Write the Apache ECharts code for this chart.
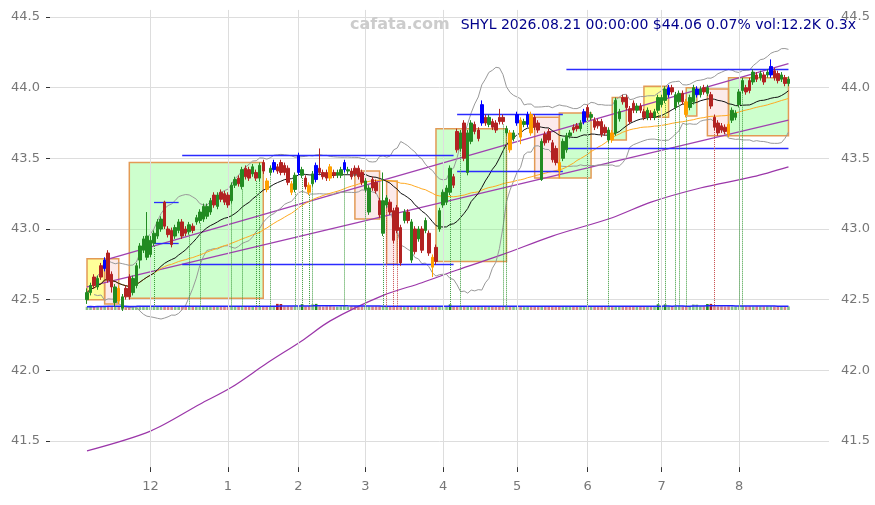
<!DOCTYPE html>
<html>
<head>
<meta charset="utf-8">
<script src="https://cdn.jsdelivr.net/npm/echarts@6/dist/echarts.min.js"></script>
<style>
  html, body { margin: 0; background: #fff; }
  #chart { width: 875px; height: 505px; }
</style>
</head>
<body>
<div id="chart"></div>
<script>
// trading calendar
const firstDay = '2025-11-04';
const lastDay = '2026-08-21';
const holidays = ['2025-11-27', '2025-12-25', '2026-01-01', '2026-01-19', '2026-02-16',
    '2026-04-03', '2026-05-25', '2026-06-19', '2026-07-03'];

// [open, close, low, high]
const ohlc = [
    [42.50,42.55,42.47,42.58],[42.55,42.60,42.53,42.62],[42.66,42.60,42.58,42.68],[42.59,42.65,42.57,42.67],
    [42.74,42.66,42.64,42.76],[42.72,42.78,42.70,42.80],[42.83,42.64,42.62,42.85],[42.68,42.59,42.55,42.70],
    [42.48,42.59,42.45,42.61],[42.58,42.49,42.47,42.60],[42.44,42.52,42.42,42.54],[42.58,42.52,42.50,42.60],
    [42.66,42.52,42.50,42.68],[42.55,42.65,42.53,42.67],[42.60,42.74,42.58,42.76],[42.78,42.88,42.72,42.90],
    [42.85,42.93,42.83,42.95],[42.80,42.95,42.78,43.12],[42.82,42.92,42.80,42.95],[42.90,42.97,42.88,42.99],
    [42.95,43.05,42.93,43.07],[43.00,43.07,42.98,43.09],[43.19,43.02,43.00,43.20],[43.00,42.96,42.94,43.02],
    [42.99,42.89,42.87,43.01],[42.95,43.01,42.93,43.03],[42.99,43.05,42.97,43.07],[43.05,42.95,42.93,43.07],
    [43.00,42.97,42.95,43.02],[42.98,43.03,42.96,43.05],[43.02,42.99,42.97,43.04],[43.05,43.08,43.03,43.10],
    [43.06,43.12,43.04,43.14],[43.07,43.16,43.05,43.18],[43.09,43.16,43.07,43.18],[43.12,43.20,43.10,43.22],
    [43.24,43.17,43.15,43.26],[43.16,43.24,43.14,43.26],[43.26,43.21,43.19,43.28],[43.25,43.19,43.17,43.27],
    [43.24,43.17,43.15,43.26],[43.20,43.31,43.18,43.33],[43.31,43.35,43.29,43.37],[43.36,43.32,43.30,43.38],
    [43.30,43.42,43.28,43.44],[43.43,43.37,43.35,43.45],[43.42,43.36,43.34,43.44],[43.39,43.44,43.37,43.46],
    [43.40,43.36,43.34,43.42],[43.36,43.45,43.34,43.47],[43.47,43.41,43.39,43.49],[43.34,43.28,43.26,43.36],
    [43.40,43.43,43.38,43.45],[43.42,43.47,43.40,43.49],[43.44,43.41,43.39,43.46],[43.47,43.40,43.38,43.49],
    [43.45,43.40,43.38,43.47],[43.43,43.33,43.31,43.45],[43.32,43.26,43.24,43.34],[43.28,43.38,43.26,43.40],
    [43.40,43.52,43.38,43.54],[43.38,43.42,43.36,43.44],[43.36,43.30,43.28,43.38],[43.31,43.26,43.24,43.33],
    [43.32,43.39,43.30,43.41],[43.35,43.45,43.33,43.47],[43.43,43.40,43.38,43.57],[43.40,43.37,43.35,43.42],
    [43.40,43.36,43.34,43.42],[43.44,43.36,43.34,43.46],[43.40,43.38,43.36,43.42],[43.38,43.40,43.36,43.42],
    [43.38,43.42,43.36,43.44],[43.42,43.47,43.40,43.49],[43.41,43.42,43.39,43.44],[43.41,43.37,43.35,43.43],
    [43.43,43.39,43.37,43.45],[43.43,43.37,43.35,43.45],[43.40,43.33,43.31,43.42],[43.28,43.34,43.26,43.36],
    [43.12,43.29,43.10,43.31],[43.35,43.29,43.27,43.37],[43.33,43.27,43.25,43.35],[43.20,43.10,43.08,43.22],
    [42.97,43.20,42.95,43.40],[43.17,43.22,43.15,43.24],[43.19,43.12,43.10,43.21],[43.13,42.92,42.90,43.15],
    [43.15,42.99,42.97,43.17],[43.01,42.76,42.74,43.03],[43.06,43.12,43.04,43.14],[43.12,43.06,43.04,43.14],
    [42.78,43.05,42.76,43.07],[43.00,42.84,42.82,43.02],[42.93,43.00,42.91,43.02],[43.00,42.85,42.83,43.02],
    [42.99,43.06,42.97,43.08],[42.97,42.83,42.81,42.99],[42.80,42.73,42.66,42.82],[42.87,42.77,42.75,42.89],
    [43.00,43.13,42.98,43.15],[43.17,43.26,43.15,43.28],[43.19,43.29,43.17,43.31],[43.26,43.43,43.24,43.45],
    [43.37,43.31,43.29,43.39],[43.69,43.56,43.54,43.71],[43.57,43.68,43.55,43.70],[43.75,43.50,43.48,43.77],
    [43.40,43.68,43.38,43.70],[43.62,43.75,43.60,43.77],[43.74,43.69,43.67,43.76],[43.70,43.64,43.62,43.72],
    [43.75,43.88,43.73,43.91],[43.79,43.75,43.73,43.81],[43.74,43.79,43.72,43.81],[43.76,43.72,43.70,43.78],
    [43.75,43.70,43.68,43.77],[43.79,43.76,43.74,43.85],[43.79,43.76,43.74,43.81],[43.68,43.71,43.66,43.73],
    [43.68,43.56,43.54,43.70],[43.64,43.68,43.62,43.70],[43.75,43.81,43.73,43.83],[43.77,43.65,43.60,43.79],
    [43.74,43.76,43.72,43.78],[43.74,43.81,43.72,43.83],[43.81,43.68,43.66,43.83],[43.79,43.72,43.70,43.81],
    [43.75,43.70,43.68,43.77],[43.35,43.62,43.34,43.64],[43.67,43.61,43.59,43.69],[43.69,43.63,43.61,43.71],
    [43.61,43.49,43.47,43.63],[43.57,43.47,43.45,43.59],[43.47,43.41,43.36,43.49],[43.50,43.62,43.48,43.64],
    [43.56,43.66,43.54,43.68],[43.66,43.68,43.64,43.70],[43.72,43.70,43.68,43.74],[43.73,43.71,43.69,43.75],
    [43.71,43.75,43.69,43.77],[43.76,43.83,43.74,43.85],[43.86,43.79,43.77,43.88],[43.79,43.81,43.77,43.83],
    [43.77,43.72,43.70,43.79],[43.76,43.73,43.71,43.78],[43.76,43.67,43.65,43.78],[43.72,43.68,43.66,43.74],
    [43.63,43.70,43.61,43.72],[43.68,43.63,43.61,43.70],[43.68,43.91,43.66,43.93],[43.78,43.83,43.76,43.85],
    [43.93,43.90,43.88,43.95],[43.93,43.86,43.84,43.95],[43.85,43.76,43.74,43.87],[43.89,43.84,43.82,43.91],
    [43.84,43.87,43.82,43.89],[43.87,43.84,43.82,43.89],[43.83,43.79,43.77,43.85],[43.79,43.84,43.77,43.86],
    [43.82,43.79,43.77,43.84],[43.79,43.83,43.77,43.85],[43.84,43.93,43.82,43.95],[43.88,43.93,43.86,43.95],
    [43.91,43.99,43.89,44.01],[43.95,44.00,43.93,44.02],[44.00,43.97,43.95,44.02],[43.86,43.95,43.84,43.97],
    [43.90,43.96,43.88,43.98],[43.96,43.90,43.88,43.98],[43.90,43.81,43.79,43.92],[43.86,43.93,43.84,43.95],
    [43.90,44.00,43.88,44.02],[43.95,43.99,43.93,44.01],[43.95,43.99,43.93,44.01],[44.00,43.97,43.95,44.02],
    [43.96,44.00,43.94,44.02],[43.95,43.87,43.85,43.97],[43.79,43.72,43.70,43.81],[43.75,43.68,43.66,43.77],
    [43.73,43.70,43.68,43.75],[43.72,43.69,43.67,43.74],[43.74,43.67,43.65,43.76],[43.77,43.84,43.75,43.86],
    [43.79,43.82,43.77,43.84],[43.88,43.97,43.86,43.99],[43.98,44.05,43.96,44.07],[44.00,43.97,43.95,44.02],
    [44.05,43.98,43.96,44.07],[44.04,44.11,44.02,44.13],[44.09,44.06,44.04,44.11],[44.07,44.10,44.05,44.12],
    [44.09,44.04,44.02,44.11],[44.09,44.11,44.07,44.13],[44.09,44.15,44.07,44.20],[44.12,44.07,44.05,44.14],
    [44.10,44.05,44.03,44.12],[44.06,44.09,44.04,44.11],[44.07,44.03,44.01,44.09],[44.03,44.06,44.01,44.08]
];

// volume, thousands
const volK = [
    11.2,12.5,10.8,13.1,12.0,14.6,13.3,11.9,12.7,13.8,11.4,12.2,10.9,13.5,12.8,14.1,11.7,12.9,13.4,12.1,
    11.8,12.6,13.9,12.3,11.5,12.8,13.2,12.0,11.6,12.9,13.7,12.4,11.9,12.5,13.0,12.2,11.8,12.7,13.3,12.6,
    11.4,12.9,13.6,12.1,12.8,11.7,12.4,13.2,12.0,12.6,13.5,12.3,11.9,13.8,21.0,20.5,12.7,13.1,12.4,12.9,
    13.6,20.0,12.2,13.0,19.5,21.0,12.5,11.8,12.9,13.4,12.1,11.6,12.8,13.5,12.0,12.7,13.2,11.9,12.4,13.0,
    12.6,12.2,13.1,12.8,14.0,12.5,13.3,12.9,13.6,14.2,12.4,12.1,13.0,12.7,12.3,13.4,12.8,12.2,13.1,12.6,
    13.2,12.8,12.5,19.0,12.9,13.5,12.6,13.0,12.4,12.8,11.9,12.3,13.6,12.7,12.1,12.9,12.4,13.1,12.6,12.2,
    13.0,12.5,13.4,12.8,12.3,13.2,12.7,12.1,12.9,13.5,12.4,12.0,12.8,13.1,12.6,12.3,12.9,12.5,12.2,12.7,
    13.0,12.6,12.4,12.9,12.2,12.8,13.1,12.5,12.3,12.7,13.3,12.6,12.1,12.8,12.4,13.0,12.2,12.7,12.5,12.9,
    12.3,12.8,19.5,12.6,19.0,12.9,12.4,12.7,13.0,12.5,12.2,12.8,19.0,18.5,12.6,12.3,20.5,21.0,12.9,12.4,
    12.8,12.2,13.1,12.6,12.4,12.9,13.2,12.5,12.7,12.3,12.8,12.6,12.4,13.0,12.7,12.2,12.5,12.8,12.4,12.2
];

const blueBars = [5, 53, 60, 65, 73, 112, 122, 125, 141, 165, 173, 194];
const orangeBars = [9, 51, 58, 63, 69, 98, 120, 123, 126, 134, 149, 170, 182];
const greenSignals = [19, 29, 32, 41, 44, 48, 49, 52, 59, 61, 63, 64, 73, 79, 84, 103, 106, 118, 119,
    142, 148, 162, 164, 167, 168, 170, 185, 186];
const redSignals = [85, 87, 88, 178];

// [from bar, to bar, low, high, kind]
const zones = [
    [0, 5, 42.50, 42.79, 'yellow'], [5, 9, 42.47, 42.79, 'pink'], [12, 50, 42.51, 43.47, 'green'],
    [76, 83, 43.07, 43.41, 'pink'], [85, 88, 42.75, 43.34, 'pink'], [99, 119, 42.77, 43.71, 'green'],
    [127, 134, 43.36, 43.79, 'pink'], [134, 143, 43.36, 43.82, 'green'], [149, 153, 43.63, 43.93, 'green'],
    [158, 165, 43.79, 44.01, 'yellow'], [170, 173, 43.80, 44.00, 'green'], [176, 182, 43.66, 43.99, 'pink'],
    [182, 199, 43.66, 44.07, 'green']
];

// [from bar, to bar, price]
const levels = [
    [19, 26, 43.19], [19, 26, 42.90], [27, 104, 42.75], [27, 104, 43.52],
    [105, 135, 43.81], [105, 135, 43.41], [136, 199, 43.57], [136, 199, 44.13]
];

// channel lines [bar, price, bar, price]
const channel = [[5, 42.78, 199, 44.17], [0, 42.59, 199, 43.77]];

// long average [bar, price]
const longAvg = [[0, 41.43], [18, 41.57], [32, 41.76], [41, 41.88], [51, 42.05], [61, 42.21], [69, 42.35],
    [84, 42.53], [95, 42.62], [105, 42.71], [118, 42.82], [132, 42.95], [149, 43.08], [160, 43.19],
    [174, 43.29], [189, 43.37], [199, 43.44]];

// y axis: labelled 41.5 .. 44.5, plot area reaches a little past both ends
const yMin = 41.0, yMax = 45.0, yStep = 0.5;
const plotTop = 44.55, plotBottom = 41.315;
const titleText = 'SHYL 2026.08.21 00:00:00 $44.06 0.07% vol:12.2K 0.3x';

const PADL = 10, PADR = 11;

function tradingDays(from, to, skip) {
    const out = [];
    const d = new Date(from + 'T00:00:00Z');
    const end = new Date(to + 'T00:00:00Z');
    while (d <= end) {
        const wd = d.getUTCDay();
        const s = d.toISOString().slice(0, 10);
        if (wd !== 0 && wd !== 6 && skip.indexOf(s) < 0) out.push(s);
        d.setUTCDate(d.getUTCDate() + 1);
    }
    return out;
}

const dates = tradingDays(firstDay, lastDay, holidays);
const cats = [];
for (let i = 0; i < PADL; i++) cats.push('L' + i);
dates.forEach(d => cats.push(d));
for (let i = 0; i < PADR; i++) cats.push('R' + i);

const monthStart = {};
const monthBars = [];
for (let i = 1; i < dates.length; i++) {
    if (dates[i].slice(5, 7) !== dates[i - 1].slice(5, 7)) {
        monthStart[i + PADL] = true;
        monthBars.push(i);
    }
}
const isMonth = (idx) => !!monthStart[idx];
const cat = (i) => cats[i + PADL];

function pad(arr) {
    return Array(PADL).fill('-').concat(arr);
}

const closes = ohlc.map(d => d[1]);
function windowStats(vals, n) {
    return vals.map((_, i) => {
        const s = vals.slice(Math.max(0, i - n + 1), i + 1);
        const m = s.reduce((a, b) => a + b, 0) / s.length;
        const v = s.reduce((a, b) => a + (b - m) * (b - m), 0) / s.length;
        return [m, Math.sqrt(v)];
    });
}
const st20 = windowStats(closes, 20);
const st50 = windowStats(closes, 50);
const ma20 = st20.map(s => +s[0].toFixed(3));
const bbUp = st20.map((s, i) => i < 2 ? '-' : +(s[0] + 2 * s[1]).toFixed(3));
const bbLo = st20.map((s, i) => i < 2 ? '-' : +(s[0] - 2 * s[1]).toFixed(3));
const ma50 = st50.map(s => +s[0].toFixed(3));
const volMa = windowStats(volK, 20).map(s => +s[0].toFixed(2));

const UP = '#228b22', DOWN = '#b22222', BLUE = '#0000ff', ORANGE = '#ffa000';

const candleData = ohlc.map((d, i) => {
    let c = null;
    if (blueBars.indexOf(i) >= 0) c = BLUE;
    if (orangeBars.indexOf(i) >= 0) c = ORANGE;
    if (!c) return d;
    return { value: d, itemStyle: { color: c, color0: c, borderColor: c, borderColor0: c } };
});

const volData = volK.map((v, i) => {
    const up = ohlc[i][1] >= ohlc[i][0];
    const strong = v > volMa[i] * 1.4;
    const col = up ? (strong ? UP : 'rgba(34,139,34,0.55)') : (strong ? DOWN : 'rgba(178,34,34,0.55)');
    return { value: v, itemStyle: { color: col } };
});

const zoneFill = {
    green: 'rgba(130,255,130,0.4)',
    yellow: 'rgba(255,255,0,0.4)',
    pink: 'rgba(245,170,170,0.25)'
};

const signalLines = [];
greenSignals.forEach(i => signalLines.push([
    { coord: [cat(i), ohlc[i][2]], lineStyle: { color: '#3a9a3a', type: 'dotted', width: 1 } },
    { coord: [cat(i), 42.45] }
]));
redSignals.forEach(i => signalLines.push([
    { coord: [cat(i), ohlc[i][2]], lineStyle: { color: '#c84a4a', type: 'dotted', width: 1 } },
    { coord: [cat(i), 42.45] }
]));

const levelLines = levels.map(l => [
    { coord: [cat(l[0]), l[2]] },
    { coord: [cat(l[1]), l[2]] }
]);

// vertical grid lines at the first bar of each month
const monthLines = monthBars.map(i => [
    { coord: [cat(i), plotTop] },
    { coord: [cat(i), plotBottom] }
]);

// grid 0 spans yMin..yMax so that 41.5 sits at y=441 and 44.5 at y=17
const pxPerUnit = (441 - 17) / 3;
const gridTop = 17 - (yMax - 44.5) * pxPerUnit;
const gridBottom = 505 - (441 + (41.5 - yMin) * pxPerUnit);

const myChart = echarts.init(document.getElementById('chart'));

const option = {
    animation: false,
    backgroundColor: '#fff',
    textStyle: { fontFamily: 'DejaVu Sans' },
    graphic: [
        { type: 'text', left: 350, top: 17, z: 10,
          style: { text: 'cafata.com', fill: '#cccccc', font: 'bold 16px "DejaVu Sans"' } },
        { type: 'text', right: 19, top: 18, z: 10,
          style: { text: titleText, fill: '#00008b', font: '14px "DejaVu Sans"' } }
    ],
    grid: [
        { left: 50, right: 46, top: gridTop, bottom: gridBottom, containLabel: false, outerBoundsMode: 'none' },
        { left: 50, right: 46, top: 9, bottom: 38, outerBoundsMode: 'none' },
        { left: 50, right: 46, top: 296, height: 14, outerBoundsMode: 'none' }
    ],
    xAxis: [
        { type: 'category', gridIndex: 0, data: cats, show: false },
        {
            type: 'category', gridIndex: 1, data: cats, offset: 4,
            axisLine: { show: false },
            axisTick: { show: true, interval: isMonth, alignWithLabel: true, length: 5, lineStyle: { color: '#333' } },
            axisLabel: { interval: isMonth, color: '#777', fontSize: 13, margin: 9,
                formatter: v => String(+v.slice(5, 7)) },
            splitLine: { show: false }
        },
        { type: 'category', gridIndex: 2, data: cats, show: false }
    ],
    yAxis: [
        {
            type: 'value', gridIndex: 0, min: yMin, max: yMax, interval: yStep, position: 'left',
            axisLine: { show: false },
            axisTick: { show: true, length: 4, lineStyle: { color: '#333' } },
            axisLabel: { color: '#777', fontSize: 13, margin: 10, formatter: v => v.toFixed(1) },
            splitLine: { lineStyle: { color: '#dddddd' } }
        },
        {
            type: 'value', gridIndex: 0, min: yMin, max: yMax, interval: yStep, position: 'right',
            axisLine: { show: false }, axisTick: { show: false },
            axisLabel: { color: '#777', fontSize: 13, margin: 12, formatter: v => v.toFixed(1) },
            splitLine: { show: false }
        },
        { type: 'value', gridIndex: 1, show: false, min: 0, max: 1 },
        { type: 'value', gridIndex: 2, show: false, min: 0, max: 48 }
    ],
    series: [
        {
            name: 'monthGrid', type: 'line', data: [], z: 0, silent: true,
            markLine: {
                silent: true, symbol: ['none', 'none'], label: { show: false },
                lineStyle: { color: '#dddddd', type: 'solid', width: 1 },
                data: monthLines
            }
        },
        {
            name: 'zones', type: 'line', data: [], z: 1, silent: true,
            markArea: {
                silent: true,
                data: zones.map(z => [
                    { xAxis: cat(z[0]), yAxis: z[2],
                      itemStyle: { color: zoneFill[z[4]], borderColor: '#e39a55', borderWidth: 1.5 } },
                    { xAxis: cat(z[1]), yAxis: z[3] }
                ])
            },
            markLine: {
                silent: true, symbol: ['none', 'none'], label: { show: false },
                lineStyle: { color: '#2b2bff', type: 'solid', width: 1.3 },
                data: levelLines
            }
        },
        {
            name: 'long', type: 'line', smooth: 0.3, showSymbol: false, z: 2,
            data: longAvg.map(p => [cat(p[0]), p[1]]),
            lineStyle: { color: '#9b36a9', width: 1.2 }
        },
        {
            name: 'chanUp', type: 'line', showSymbol: false, z: 2,
            data: [[cat(channel[0][0]), channel[0][1]], [cat(channel[0][2]), channel[0][3]]],
            lineStyle: { color: '#a040b0', width: 1.3 }
        },
        {
            name: 'chanLo', type: 'line', showSymbol: false, z: 2,
            data: [[cat(channel[1][0]), channel[1][1]], [cat(channel[1][2]), channel[1][3]]],
            lineStyle: { color: '#a040b0', width: 1.3 }
        },
        {
            name: 'bbUp', type: 'line', showSymbol: false, z: 2, data: pad(bbUp),
            lineStyle: { color: '#999999', width: 1 }
        },
        {
            name: 'bbLo', type: 'line', showSymbol: false, z: 2, data: pad(bbLo),
            lineStyle: { color: '#999999', width: 1 }
        },
        {
            name: 'ma50', type: 'line', showSymbol: false, z: 2, data: pad(ma50),
            lineStyle: { color: '#ffaa22', width: 1 }
        },
        {
            name: 'ma20', type: 'line', showSymbol: false, z: 2, data: pad(ma20),
            lineStyle: { color: '#111111', width: 1 }
        },
        {
            name: 'SHYL', type: 'candlestick', z: 5, barWidth: '85%',
            data: pad(candleData),
            itemStyle: { color: UP, color0: DOWN, borderColor: UP, borderColor0: DOWN, borderWidth: 1 },
            markLine: {
                silent: true, symbol: ['none', 'none'], label: { show: false },
                data: signalLines
            }
        },
        {
            name: 'vol', type: 'bar', xAxisIndex: 2, yAxisIndex: 3, barWidth: '75%',
            data: pad(volData)
        },
        {
            name: 'volMa', type: 'line', xAxisIndex: 2, yAxisIndex: 3, showSymbol: false,
            data: pad(volMa), lineStyle: { color: '#2323ff', width: 1.5 }
        }
    ]
};

myChart.setOption(option);
</script>
</body>
</html>
